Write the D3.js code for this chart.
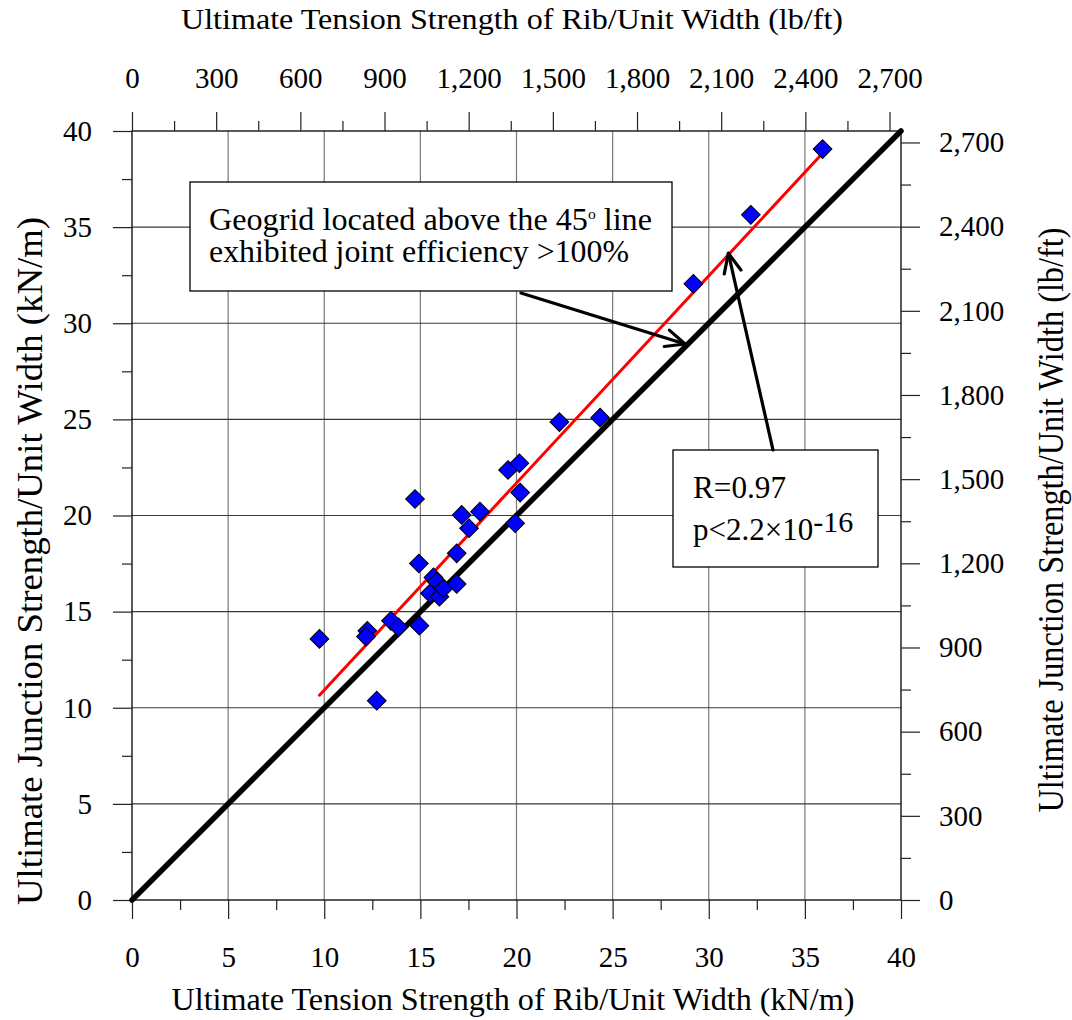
<!DOCTYPE html>
<html>
<head>
<meta charset="utf-8">
<script src="https://cdn.jsdelivr.net/npm/d3@7"></script>
<style>
  body { margin: 0; background: #fff; }
</style>
</head>
<body>
<svg id="chart" width="1072" height="1020"></svg>
<script>
// rib tension (kN/m) vs junction strength (kN/m)
let ribStrength = [9.75, 12.73, 12.24, 12.17, 13.47, 13.86, 14.95, 14.72, 14.92, 15.68, 15.85, 15.5, 15.99, 16.2, 16.89, 16.89, 17.15, 17.53, 18.1, 19.56, 20.15, 20.19, 19.93, 22.23, 24.35, 29.2, 32.19, 35.92];
let junctionStrength = [13.58, 10.37, 14.0, 13.7, 14.52, 14.19, 14.27, 20.86, 17.5, 16.78, 16.56, 15.95, 15.78, 16.2, 16.44, 18.03, 20.03, 19.34, 20.2, 22.37, 22.72, 21.19, 19.6, 24.86, 25.09, 32.05, 35.64, 39.06];

// fitted line end points and the 45 degree line
let fitLine = [[9.75, 10.65], [35.92, 38.84]];
let equalLine = [[0, 0], [40, 40]];

let kNTicks = [0, 5, 10, 15, 20, 25, 30, 35, 40];
let kNMinor = [2.5, 7.5, 12.5, 17.5, 22.5, 27.5, 32.5, 37.5];
let lbTicks = [0, 300, 600, 900, 1200, 1500, 1800, 2100, 2400, 2700];
let lbMinor = [150, 450, 750, 1050, 1350, 1650, 1950, 2250, 2550];
let lbPerKN = 68.5218;

let note1 = ["Geogrid located above the 45", "o", " line", "exhibited joint efficiency >100%"];
let note2 = ["R=0.97", "p<2.2\u00d710", "-16"];

// arrows: [tailX, tailY, tipX, tipY] in kN/m
let arrows = [[20.23, 31.57, 28.77, 28.92], [33.34, 23.41, 31.02, 33.64]];

const serif = "'Liberation Serif', 'Times New Roman', serif";
let svg = d3.select("#chart");

let pLeft = 132, pRight = 901, pTop = 131, pBottom = 900;

let x = d3.scaleLinear().domain([0, 40]).range([pLeft, pRight]);
let y = d3.scaleLinear().domain([0, 40]).range([pBottom, pTop]);
let xLb = d3.scaleLinear().domain([0, 40 * lbPerKN]).range([pLeft, pRight]);
let yLb = d3.scaleLinear().domain([0, 40 * lbPerKN]).range([pBottom, pTop]);

// grid
svg.append("g")
  .selectAll("line")
  .data(kNTicks.slice(1, -1))
  .enter()
  .append("line")
  .attr("x1", d => x(d)).attr("x2", d => x(d))
  .attr("y1", pTop).attr("y2", pBottom)
  .attr("stroke", "#7a7a7a").attr("stroke-width", 1.2);

svg.append("g")
  .selectAll("line")
  .data(kNTicks.slice(1, -1))
  .enter()
  .append("line")
  .attr("y1", d => y(d)).attr("y2", d => y(d))
  .attr("x1", pLeft).attr("x2", pRight)
  .attr("stroke", "#3a3a3a").attr("stroke-width", 1.2);

svg.append("rect")
  .attr("x", pLeft).attr("y", pTop)
  .attr("width", pRight - pLeft).attr("height", pBottom - pTop)
  .attr("fill", "none").attr("stroke", "#000").attr("stroke-width", 1.3);

let tickFont = 29;

function styleAxis(g) {
  g.select(".domain").remove();
  g.selectAll("line").attr("stroke", "#222").attr("stroke-width", 1.2);
  g.selectAll("text")
    .style("font-family", serif)
    .style("font-size", tickFont + "px")
    .attr("fill", "#000");
}

let fmt = d3.format(",");

svg.append("g").attr("transform", `translate(0,${pBottom})`)
  .call(d3.axisBottom(x).tickValues(kNTicks).tickSize(19).tickPadding(27).tickSizeOuter(0))
  .call(styleAxis);
svg.append("g").attr("transform", `translate(0,${pBottom})`)
  .call(d3.axisBottom(x).tickValues(kNMinor).tickSize(10).tickFormat("").tickSizeOuter(0))
  .call(styleAxis);

svg.append("g").attr("transform", `translate(${pLeft},0)`)
  .call(d3.axisLeft(y).tickValues(kNTicks).tickSize(19).tickPadding(21).tickSizeOuter(0))
  .call(styleAxis);
svg.append("g").attr("transform", `translate(${pLeft},0)`)
  .call(d3.axisLeft(y).tickValues(kNMinor).tickSize(10).tickFormat("").tickSizeOuter(0))
  .call(styleAxis);

svg.append("g").attr("transform", `translate(0,${pTop})`)
  .call(d3.axisTop(xLb).tickValues(lbTicks).tickSize(19).tickPadding(24).tickFormat(fmt).tickSizeOuter(0))
  .call(styleAxis);
svg.append("g").attr("transform", `translate(0,${pTop})`)
  .call(d3.axisTop(xLb).tickValues(lbMinor).tickSize(10).tickFormat("").tickSizeOuter(0))
  .call(styleAxis);

svg.append("g").attr("transform", `translate(${pRight},0)`)
  .call(d3.axisRight(yLb).tickValues(lbTicks).tickSize(19).tickPadding(19).tickFormat(fmt).tickSizeOuter(0))
  .call(styleAxis);
svg.append("g").attr("transform", `translate(${pRight},0)`)
  .call(d3.axisRight(yLb).tickValues(lbMinor).tickSize(10).tickFormat("").tickSizeOuter(0))
  .call(styleAxis);

// titles
function title(tx, ty, rot, size, len, str) {
  svg.append("text")
    .attr("transform", `translate(${tx},${ty}) rotate(${rot})`)
    .attr("text-anchor", "middle")
    .attr("textLength", len).attr("lengthAdjust", "spacingAndGlyphs")
    .style("font-family", serif).style("font-size", size + "px")
    .text(str);
}
title(513, 1010, 0, 31, 683, "Ultimate Tension Strength of Rib/Unit Width (kN/m)");
title(512, 29, 0, 30, 662, "Ultimate Tension Strength of Rib/Unit Width (lb/ft)");
title(42, 561, -90, 36, 688, "Ultimate Junction Strength/Unit Width (kN/m)");
title(1063, 520, -90, 36, 585, "Ultimate Junction Strength/Unit Width (lb/ft)");

// lines
let line = d3.line().x(d => x(d[0])).y(d => y(d[1]));

svg.append("path").attr("d", line(equalLine))
  .attr("fill", "none").attr("stroke", "#000").attr("stroke-width", 5.5).attr("stroke-linecap", "round");

svg.append("path").attr("d", line(fitLine))
  .attr("fill", "none").attr("stroke", "#ff0000").attr("stroke-width", 3).attr("stroke-linecap", "round");

// points
let pts = ribStrength.map((r, i) => ({ r: r, j: junctionStrength[i] }));
let diamond = d3.symbol().type(d3.symbolSquare).size(175);

svg.append("g")
  .selectAll("path")
  .data(pts)
  .enter()
  .append("path")
  .attr("d", diamond)
  .attr("transform", d => `translate(${x(d.r)},${y(d.j)}) rotate(45)`)
  .attr("fill", "#0000ff")
  .attr("stroke", "#000")
  .attr("stroke-width", 1);

// annotation boxes
let box1 = svg.append("g").style("font-family", serif);
box1.append("rect").attr("x", 190).attr("y", 182).attr("width", 482).attr("height", 109)
  .attr("fill", "#fff").attr("stroke", "#000").attr("stroke-width", 1.3);
let t1 = box1.append("text").attr("x", 209).attr("y", 230).style("font-size", "31px")
  .attr("textLength", 443).attr("lengthAdjust", "spacingAndGlyphs");
t1.append("tspan").text(note1[0]);
t1.append("tspan").style("font-size", "15px").attr("dy", -11).text(note1[1]);
t1.append("tspan").attr("dy", 11).text(note1[2]);
box1.append("text").attr("x", 209).attr("y", 262).style("font-size", "31px")
  .attr("textLength", 420).attr("lengthAdjust", "spacingAndGlyphs").text(note1[3]);

let box2 = svg.append("g").style("font-family", serif);
box2.append("rect").attr("x", 673).attr("y", 450).attr("width", 205).attr("height", 117)
  .attr("fill", "#fff").attr("stroke", "#000").attr("stroke-width", 1.3);
box2.append("text").attr("x", 693).attr("y", 498).style("font-size", "31px")
  .attr("textLength", 93).attr("lengthAdjust", "spacingAndGlyphs").text(note2[0]);
let t2 = box2.append("text").attr("x", 693).attr("y", 540).style("font-size", "31px");
t2.append("tspan").text(note2[1]);
t2.append("tspan").style("font-size", "30px").attr("dy", -8).text(note2[2]);

// arrows with open heads
arrows.forEach(a => {
  let x0 = x(a[0]), y0 = y(a[1]), x1 = x(a[2]), y1 = y(a[3]);
  let ang = Math.atan2(y1 - y0, x1 - x0);
  let len = 21, spread = 0.42;
  let g = svg.append("g").attr("stroke", "#000").attr("stroke-width", 3.2)
    .attr("fill", "none").attr("stroke-linecap", "round").attr("stroke-linejoin", "round");
  g.append("line").attr("x1", x0).attr("y1", y0).attr("x2", x1).attr("y2", y1);
  g.append("path").attr("d", d3.line()([
    [x1 - len * Math.cos(ang - spread), y1 - len * Math.sin(ang - spread)],
    [x1, y1],
    [x1 - len * Math.cos(ang + spread), y1 - len * Math.sin(ang + spread)]
  ]));
});
</script>
</body>
</html>
